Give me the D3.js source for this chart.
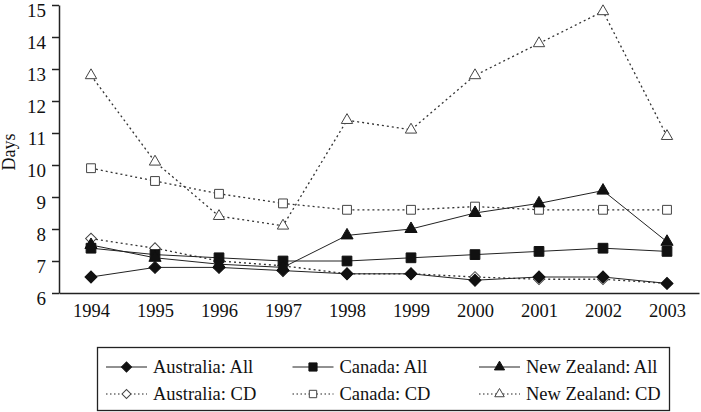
<!DOCTYPE html>
<html>
<head>
<meta charset="utf-8">
<script src="https://cdn.jsdelivr.net/npm/d3@7"></script>
<style>
  body { margin: 0; background: #fff; }
  svg { display: block; }
  svg text { font-family: "Liberation Serif", "Times New Roman", serif; }
</style>
</head>
<body>
<svg id="chart" width="701" height="412"></svg>
<script>
// data
const years = [1994, 1995, 1996, 1997, 1998, 1999, 2000, 2001, 2002, 2003]
const australiaAll = [6.5, 6.8, 6.8, 6.7, 6.6, 6.6, 6.4, 6.5, 6.5, 6.3]
const canadaAll = [7.4, 7.2, 7.1, 7.0, 7.0, 7.1, 7.2, 7.3, 7.4, 7.3]
const newZealandAll = [7.5, 7.1, 6.9, 6.8, 7.8, 8.0, 8.5, 8.8, 9.2, 7.6]
const australiaCD = [7.7, 7.4, 7.0, 6.85, 6.6, 6.6, 6.5, 6.43, 6.43, 6.3]
const canadaCD = [9.9, 9.5, 9.1, 8.8, 8.6, 8.6, 8.7, 8.6, 8.6, 8.6]
const newZealandCD = [12.8, 10.1, 8.4, 8.1, 11.4, 11.1, 12.8, 13.8, 14.8, 10.9]
const yTicks = [6, 7, 8, 9, 10, 11, 12, 13, 14, 15]

const series = [
    { name: 'Australia: All', values: australiaAll, shape: 'diamond', filled: true },
    { name: 'Canada: All', values: canadaAll, shape: 'square', filled: true },
    { name: 'New Zealand: All', values: newZealandAll, shape: 'triangle', filled: true },
    { name: 'Australia: CD', values: australiaCD, shape: 'diamond', filled: false },
    { name: 'Canada: CD', values: canadaCD, shape: 'square', filled: false },
    { name: 'New Zealand: CD', values: newZealandCD, shape: 'triangle', filled: false }
]

const svg = d3.select('#chart')

const x = d3.scalePoint().domain(years).range([59, 699]).padding(0.5)
const y = d3.scaleLinear().domain([6, 15]).range([293, 5])

// symbol helpers
function symbolPath(shape, filled, scaleF = 1) {
    if (shape === 'diamond') return d3.symbol(d3.symbolSquare, (filled ? 72 : 58) * scaleF)()
    if (shape === 'square') return d3.symbol(d3.symbolSquare, (filled ? 95 : 78) * scaleF)()
    return d3.symbol(d3.symbolTriangle, (filled ? 64 : 56) * scaleF)()
}
function symbolRotate(shape) {
    return shape === 'diamond' ? ' rotate(45)' : ''
}

// axes
const yAxis = svg.append('g')
    .attr('transform', 'translate(59,0)')
    .call(d3.axisLeft(y).tickValues(yTicks).tickSize(7).tickPadding(6).tickSizeOuter(0))
    .attr('font-family', null)
yAxis.selectAll('text').attr('font-size', 19).attr('fill', '#111').attr('dy', '0.62em')
yAxis.selectAll('line, path').attr('stroke', '#222').attr('stroke-width', 1.5)

const xAxis = svg.append('g')
    .attr('transform', 'translate(0,293)')
    .call(d3.axisBottom(x).tickSize(0).tickPadding(11).tickSizeOuter(0))
    .attr('font-family', null)
xAxis.selectAll('text').attr('font-size', 18.5).attr('fill', '#111')
xAxis.select('.domain').attr('stroke', '#222').attr('stroke-width', 1.5)

svg.append('text')
    .attr('transform', 'translate(15,152) rotate(-90)')
    .attr('text-anchor', 'middle')
    .attr('font-size', 18)
    .attr('fill', '#111')
    .text('Days')

// lines and markers
const line = d3.line()
    .x((d, i) => x(years[i]))
    .y(d => y(d))

const drawOrder = [3, 4, 5, 0, 1, 2]
drawOrder.forEach(k => {
    const s = series[k]
    const g = svg.append('g')
    g.append('path')
        .attr('d', line(s.values))
        .attr('fill', 'none')
        .attr('stroke', s.filled ? '#222' : '#333')
        .attr('stroke-width', s.filled ? 1 : 1.3)
        .attr('stroke-dasharray', s.filled ? null : '2,3')

    g.selectAll('path.mark')
        .data(s.values)
        .join('path')
        .attr('class', 'mark')
        .attr('d', symbolPath(s.shape, s.filled))
        .attr('transform', (d, i) => `translate(${x(years[i])},${y(d)})` + symbolRotate(s.shape))
        .attr('fill', s.filled ? '#111' : '#fff')
        .attr('stroke', s.filled ? '#111' : '#444')
        .attr('stroke-width', 1)
})

// legend
const legend = svg.append('g')
legend.append('rect')
    .attr('x', 97.5).attr('y', 347.5)
    .attr('width', 572).attr('height', 63)
    .attr('fill', '#fff')
    .attr('stroke', '#222')
    .attr('stroke-width', 1.3)

series.forEach((s, k) => {
    const col = k % 3, row = Math.floor(k / 3)
    const lx = 106 + col * 186.5
    const ly = 367 + row * 27
    const item = legend.append('g').attr('transform', `translate(${lx},${ly})`)
    item.append('line')
        .attr('x1', 0).attr('x2', 41)
        .attr('stroke', '#222')
        .attr('stroke-width', s.filled ? 1 : 1.2)
        .attr('stroke-dasharray', s.filled ? null : '1.5,2.5')
    item.append('path')
        .attr('d', symbolPath(s.shape, s.filled, 0.7))
        .attr('transform', 'translate(20.5,0)' + symbolRotate(s.shape))
        .attr('fill', s.filled ? '#111' : '#fff')
        .attr('stroke', s.filled ? '#111' : '#444')
    item.append('text')
        .attr('x', 47)
        .attr('dy', '0.35em')
        .attr('font-size', 18.5)
        .attr('fill', '#111')
        .text(s.name)
})
</script>
</body>
</html>
